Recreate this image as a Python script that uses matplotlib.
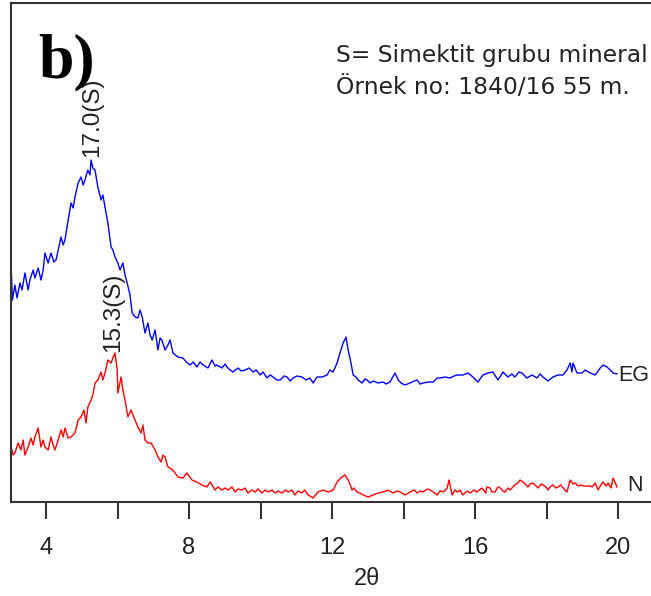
"""XRD pattern, sample 1840/16 55 m: normal (N) and glycolated (EG) traces."""
import matplotlib
matplotlib.use("Agg")
import matplotlib.pyplot as plt
from matplotlib.ticker import FixedLocator

# EG trace (blue): 2theta vs. counts (arbitrary units)
eg_two_theta = [
    3.02, 3.06, 3.13, 3.19, 3.27, 3.33, 3.41, 3.50, 3.55, 3.64,
    3.69, 3.78, 3.86, 3.92, 3.97, 4.06, 4.14, 4.22, 4.28, 4.34,
    4.42, 4.48, 4.53, 4.62, 4.70, 4.76, 4.81, 4.90, 4.98, 5.04,
    5.09, 5.17, 5.23, 5.26, 5.31, 5.37, 5.45, 5.54, 5.59, 5.65,
    5.73, 5.82, 5.87, 5.93, 6.01, 6.07, 6.15, 6.21, 6.27, 6.35,
    6.41, 6.49, 6.57, 6.63, 6.69, 6.77, 6.85, 6.91, 6.97, 7.05,
    7.13, 7.19, 7.24, 7.33, 7.41, 7.47, 7.55, 7.69, 7.83, 7.92,
    8.03, 8.12, 8.22, 8.31, 8.39, 8.53, 8.64, 8.73, 8.78, 8.92,
    9.01, 9.06, 9.15, 9.23, 9.37, 9.46, 9.57, 9.68, 9.79, 9.88,
    9.99, 10.07, 10.18, 10.27, 10.35, 10.46, 10.55, 10.66, 10.74, 10.83,
    10.91, 11.02, 11.16, 11.27, 11.38, 11.47, 11.58, 11.72, 11.86, 11.94,
    12.03, 12.14, 12.22, 12.31, 12.39, 12.45, 12.53, 12.59, 12.67, 12.73,
    12.84, 12.92, 12.98, 13.06, 13.15, 13.29, 13.43, 13.51, 13.62, 13.76,
    13.85, 13.93, 14.04, 14.18, 14.30, 14.38, 14.46, 14.55, 14.69, 14.83,
    14.94, 15.02, 15.16, 15.30, 15.41, 15.50, 15.66, 15.80, 15.94, 16.08,
    16.22, 16.36, 16.50, 16.64, 16.78, 16.92, 17.03, 17.11, 17.23, 17.31,
    17.45, 17.59, 17.73, 17.82, 17.90, 18.04, 18.18, 18.32, 18.46, 18.57,
    18.66, 18.71, 18.74, 18.85, 18.99, 19.08, 19.22, 19.36, 19.50, 19.58,
    19.69, 19.78, 19.86, 19.97,
]
eg_counts = [
    240, 202, 217, 204, 219, 212, 229, 212, 222, 232,
    224, 234, 222, 232, 249, 239, 249, 240, 242, 252,
    265, 257, 262, 282, 299, 294, 305, 319, 325, 317,
    322, 332, 327, 342, 334, 332, 315, 302, 307, 295,
    279, 255, 252, 245, 239, 232, 239, 227, 219, 207,
    189, 185, 184, 192, 185, 169, 179, 167, 162, 172,
    152, 164, 162, 152, 157, 162, 149, 145, 144, 140,
    137, 140, 135, 140, 137, 134, 142, 136, 137, 134,
    138, 135, 132, 130, 134, 131, 132, 134, 130, 132,
    127, 130, 124, 127, 125, 122, 122, 126, 125, 121,
    124, 126, 125, 122, 124, 119, 125, 125, 127, 132,
    130, 139, 149, 159, 165, 152, 139, 127, 125, 122,
    119, 123, 122, 119, 121, 119, 120, 118, 120, 129,
    122, 119, 117, 119, 121, 122, 118, 119, 120, 120,
    124, 124, 125, 124, 126, 127, 127, 129, 125, 120,
    127, 129, 130, 122, 130, 125, 128, 125, 130, 129,
    124, 127, 124, 128, 125, 121, 125, 127, 127, 132,
    139, 130, 139, 129, 129, 132, 129, 127, 134, 137,
    135, 132, 129, 128,
]

# N trace (red)
n_two_theta = [
    3.02, 3.08, 3.13, 3.22, 3.30, 3.36, 3.41, 3.50, 3.58, 3.64,
    3.69, 3.78, 3.86, 3.92, 3.97, 4.06, 4.14, 4.20, 4.25, 4.34,
    4.42, 4.48, 4.53, 4.62, 4.70, 4.81, 4.90, 4.98, 5.06, 5.12,
    5.17, 5.26, 5.31, 5.37, 5.45, 5.54, 5.59, 5.65, 5.73, 5.82,
    5.87, 5.93, 5.99, 6.01, 6.10, 6.15, 6.21, 6.29, 6.38, 6.43,
    6.49, 6.57, 6.66, 6.71, 6.77, 6.85, 6.94, 7.05, 7.13, 7.22,
    7.27, 7.33, 7.41, 7.55, 7.69, 7.83, 7.94, 8.08, 8.22, 8.36,
    8.50, 8.59, 8.73, 8.81, 8.92, 9.01, 9.09, 9.20, 9.29, 9.37,
    9.48, 9.57, 9.65, 9.76, 9.85, 9.93, 10.04, 10.13, 10.21, 10.32,
    10.41, 10.49, 10.60, 10.69, 10.77, 10.88, 10.96, 11.05, 11.16, 11.24,
    11.33, 11.47, 11.61, 11.75, 11.89, 12.03, 12.14, 12.22, 12.28, 12.36,
    12.45, 12.50, 12.56, 12.61, 12.70, 12.78, 12.87, 13.01, 13.15, 13.29,
    13.43, 13.57, 13.70, 13.82, 13.90, 14.04, 14.18, 14.30, 14.38, 14.46,
    14.55, 14.66, 14.74, 14.83, 14.94, 15.02, 15.11, 15.22, 15.27, 15.36,
    15.44, 15.50, 15.58, 15.66, 15.78, 15.86, 15.97, 16.05, 16.19, 16.30,
    16.33, 16.42, 16.47, 16.56, 16.64, 16.70, 16.78, 16.84, 16.92, 16.98,
    17.06, 17.11, 17.20, 17.26, 17.34, 17.43, 17.48, 17.54, 17.62, 17.71,
    17.76, 17.85, 17.90, 17.99, 18.04, 18.12, 18.18, 18.26, 18.32, 18.40,
    18.46, 18.57, 18.66, 18.74, 18.80, 18.88, 18.94, 19.05, 19.13, 19.22,
    19.27, 19.36, 19.44, 19.52, 19.58, 19.66, 19.72, 19.80, 19.86, 19.91,
    19.97,
]
n_counts = [
    55, 47, 49, 59, 52, 62, 47, 55, 64, 57,
    65, 74, 55, 62, 55, 52, 65, 57, 52, 62,
    72, 65, 74, 64, 65, 69, 82, 85, 92, 79,
    95, 102, 107, 119, 122, 130, 122, 129, 142, 139,
    144, 149, 132, 109, 125, 112, 102, 85, 92, 87,
    82, 75, 69, 77, 62, 59, 59, 52, 45, 40,
    47, 45, 35, 32, 25, 24, 29, 22, 20, 17,
    15, 20, 12, 15, 12, 14, 12, 15, 10, 13,
    12, 14, 9, 12, 10, 13, 9, 12, 10, 12,
    9, 11, 9, 12, 10, 12, 7, 11, 9, 12,
    7, 4, 10, 12, 10, 12, 20, 23, 25, 27,
    22, 18, 12, 14, 10, 9, 7, 5, 7, 9,
    10, 12, 9, 11, 10, 7, 10, 12, 9, 11,
    10, 13, 12, 10, 7, 11, 10, 14, 22, 7,
    12, 10, 12, 7, 11, 9, 12, 10, 14, 9,
    15, 14, 10, 10, 15, 14, 11, 10, 14, 12,
    15, 17, 19, 22, 20, 17, 15, 18, 19, 16,
    14, 18, 17, 15, 12, 16, 17, 14, 15, 17,
    14, 10, 22, 18, 19, 16, 17, 16, 16, 16,
    15, 19, 12, 17, 20, 16, 19, 14, 24, 20,
    15,
]

# peak labels: (2theta, counts at text foot, text)
peak_labels = [
    (5.29, 345, "17.0(S)"),
    (5.87, 150, "15.3(S)"),
]
trace_labels = [("EG", 20.01, 121), ("N", 20.25, 11)]

W, H = 651, 596
fig = plt.figure(figsize=(W / 100, H / 100), dpi=100)
ax = fig.add_axes([11 / W, (H - 502) / H, (W - 11) / W, 499 / H])

ax.plot(eg_two_theta, eg_counts, color="#0000ff", lw=1.0)
ax.plot(n_two_theta, n_counts, color="#ff0000", lw=1.0)

ax.set_xlim(3.021, 20.92)
ax.set_ylim(0, 499)

for side in ("left", "top", "bottom"):
    ax.spines[side].set_linewidth(1.5)
    ax.spines[side].set_color("#333333")
ax.spines["right"].set_visible(False)

ax.xaxis.set_major_locator(FixedLocator([4, 8, 12, 16, 20]))
ax.xaxis.set_minor_locator(FixedLocator([6, 10, 14, 18]))
ax.tick_params(axis="x", which="both", direction="out", length=12, width=1.5,
               color="#333333", pad=13)
ax.set_yticks([])
for lab in ax.get_xticklabels():
    lab.set_fontfamily("Liberation Sans")
    lab.set_fontsize(17)
    lab.set_color("#222222")

fig.text(367 / W, 1 - 579 / H, "2θ", fontsize=17, family="Liberation Sans",
         ha="center", va="center", color="#222222")

for tt, cc, txt in peak_labels:
    ax.text(tt, cc, txt, rotation=90, ha="center", va="bottom", fontsize=17.5,
            family="Liberation Sans", color="#222222")

for txt, tt, cc in trace_labels:
    ax.text(tt, cc, txt, ha="left", va="baseline", fontsize=15.5,
            family="Liberation Sans", color="#222222", clip_on=False)

fig.text(38 / W, 1 - 77 / H, "b)", fontsize=46, family="Liberation Serif",
         fontweight="bold", ha="left", va="baseline", color="black")
fig.text(336 / W, 1 - 62 / H, "S= Simektit grubu mineral", fontsize=16.8,
         family="DejaVu Sans", ha="left", va="baseline", color="#222222")
fig.text(336 / W, 1 - 94 / H, "Örnek no: 1840/16 55 m.", fontsize=16.8,
         family="DejaVu Sans", ha="left", va="baseline", color="#222222")

fig.savefig("out.png", dpi=100)
